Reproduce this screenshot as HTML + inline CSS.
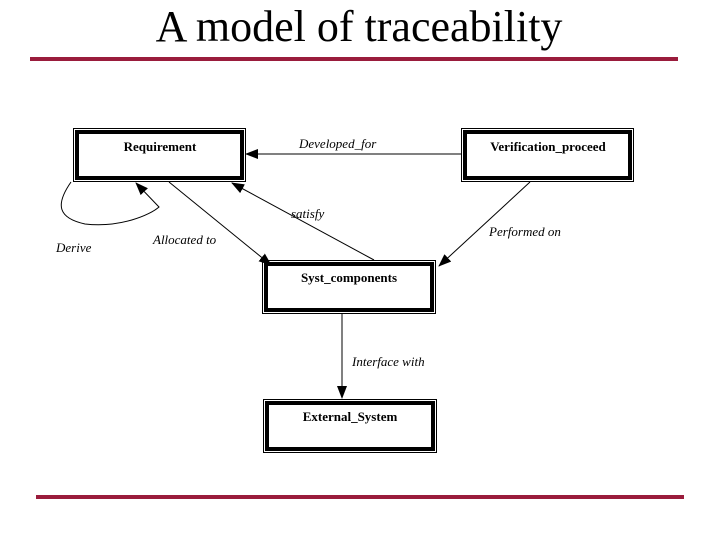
<!DOCTYPE html>
<html><head><style>
html,body{margin:0;padding:0;background:#fff;width:720px;height:540px;overflow:hidden}
</style></head><body>
<svg width="720" height="540" xmlns="http://www.w3.org/2000/svg" font-family="Liberation Serif, serif">
<text x="359" y="41" font-size="44" text-anchor="middle" fill="#000">A model of traceability</text>
<rect x="30" y="57" width="648" height="4" fill="#9a1c3c"/>
<rect x="36" y="495" width="648" height="4" fill="#9a1c3c"/>
<defs><marker id="a" markerWidth="13" markerHeight="10" refX="12" refY="5" orient="auto" markerUnits="userSpaceOnUse"><path d="M0,0 L13,5 L0,10z" fill="#000"/></marker></defs>
<g fill="none" stroke="#000">
<rect x="73.5" y="128.5" width="172" height="53" stroke-width="1"/>
<rect x="77" y="132" width="165" height="46" stroke-width="4"/>
<rect x="461.5" y="128.5" width="172" height="53" stroke-width="1"/>
<rect x="465" y="132" width="165" height="46" stroke-width="4"/>
<rect x="262.5" y="260.5" width="173" height="53" stroke-width="1"/>
<rect x="266" y="264" width="166" height="46" stroke-width="4"/>
<rect x="263.5" y="399.5" width="173" height="53" stroke-width="1"/>
<rect x="267" y="403" width="166" height="46" stroke-width="4"/>
<g stroke-width="1">
<line x1="461" y1="154" x2="246" y2="154" marker-end="url(#a)"/>
<line x1="169" y1="182" x2="271" y2="265" marker-end="url(#a)"/>
<line x1="374" y1="260" x2="232" y2="183" marker-end="url(#a)"/>
<line x1="530" y1="182" x2="439" y2="266" marker-end="url(#a)"/>
<line x1="342" y1="314" x2="342" y2="398" marker-end="url(#a)"/>
<path d="M71,182 C55,205 58,218 85,224 C120,228 150,215 159,207 L136,183" marker-end="url(#a)"/>
</g></g>
<g font-size="13" fill="#000">
<g font-weight="bold" text-anchor="middle">
<text x="160" y="151">Requirement</text>
<text x="548" y="151">Verification_proceed</text>
<text x="349" y="282">Syst_components</text>
<text x="350" y="421">External_System</text>
</g>
<g font-style="italic">
<text x="299" y="148">Developed_for</text>
<text x="291" y="218">satisfy</text>
<text x="153" y="244">Allocated  to</text>
<text x="56" y="252">Derive</text>
<text x="489" y="236">Performed  on</text>
<text x="352" y="366">Interface  with</text>
</g></g>
</svg>
</body></html>
